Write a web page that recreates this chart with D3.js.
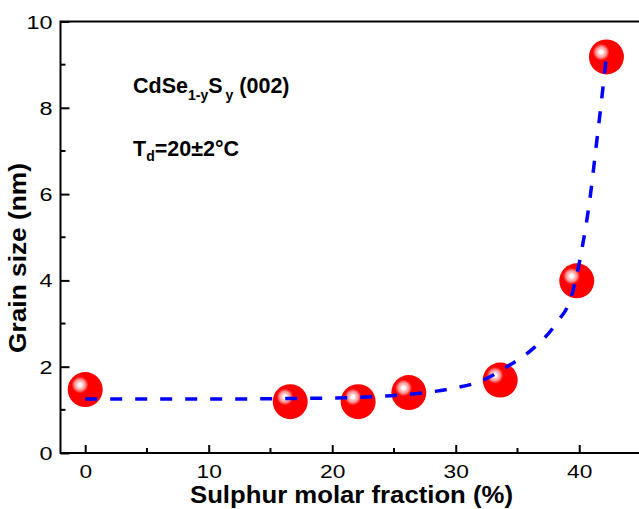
<!DOCTYPE html>
<html>
<head>
<meta charset="utf-8">
<script src="https://cdn.jsdelivr.net/npm/d3@7"></script>
<style>
  html, body { margin: 0; padding: 0; background: #fff; }
  svg { display: block; }
  text { font-family: "Liberation Sans", Arial, sans-serif; }
</style>
</head>
<body>
<svg id="chart" width="639" height="509"></svg>
<script>
// ---- data ----
const sulphur   = [0, 16.6, 22.1, 26.2, 33.6, 39.8, 42.2];
const grainSize = [1.47, 1.19, 1.19, 1.40, 1.69, 3.99, 9.18];

// dashed guide curve
const curveX = [0, 8, 16, 22, 26.2, 29.8, 31.9, 34.1, 36.3, 38.15, 39.4, 40.2, 40.85, 41.4, 41.7, 42.2];
const curveY = [1.25, 1.25, 1.26, 1.29, 1.36, 1.50, 1.65, 1.99, 2.43, 3.01, 3.66, 4.70, 5.86, 7.18, 7.91, 9.2];

const xTicks = [0, 10, 20, 30, 40];
const xMinor = [5, 15, 25, 35, 45];
const yTicks = [0, 2, 4, 6, 8, 10];
const yMinor = [1, 3, 5, 7, 9];

const xTitle = "Sulphur molar fraction (%)";
const yTitle = "Grain size (nm)";

// ---- layout ----
const svg = d3.select("#chart");
const x = d3.scaleLinear().domain([-2, 45]).range([60.5, 641]);
const y = d3.scaleLinear().domain([0, 10]).range([453, 21.5]);

// gradient for glossy red spheres
const defs = svg.append("defs");
const grad = defs.append("radialGradient").attr("id", "ball")
  .attr("cx", 0.35).attr("cy", 0.365).attr("r", 0.24)
  .attr("fx", 0.35).attr("fy", 0.365);
[[0, "#ffffff"], [0.22, "#ffffff"], [0.38, "#ffc4c4"], [0.62, "#ff9a9a"], [0.82, "#ff4848"], [1, "#ff0000"]]
  .forEach(([o, c]) => grad.append("stop").attr("offset", o).attr("stop-color", c));

// frame
svg.append("rect")
  .attr("x", x(-2)).attr("y", y(10))
  .attr("width", x(45) - x(-2)).attr("height", y(0) - y(10))
  .attr("fill", "none").attr("stroke", "#000").attr("stroke-width", 2);

// x axis
const gx = svg.append("g").attr("transform", `translate(0,${y(0)})`);
gx.call(d3.axisBottom(x).tickValues(xTicks).tickSizeInner(-8).tickSizeOuter(0).tickFormat(d3.format("d")))
  .call(g => g.select(".domain").remove())
  .call(g => g.selectAll(".tick line").attr("stroke", "#000").attr("stroke-width", 2))
  .call(g => g.selectAll(".tick text").attr("y", 0).attr("dy", 0)
      .attr("transform", "translate(0,25) scale(1.3,1)")
      .attr("font-size", 17.5).attr("fill", "#000").attr("font-family", "Liberation Sans, Arial, sans-serif"));
gx.selectAll(".minor").data(xMinor).join("line")
  .attr("x1", d => x(d)).attr("x2", d => x(d)).attr("y1", 0).attr("y2", -5)
  .attr("stroke", "#000").attr("stroke-width", 2);

// y axis
const gy = svg.append("g").attr("transform", `translate(${x(-2)},0)`);
gy.call(d3.axisLeft(y).tickValues(yTicks).tickSizeInner(-9).tickSizeOuter(0).tickFormat(d3.format("d")))
  .call(g => g.select(".domain").remove())
  .call(g => g.selectAll(".tick line").attr("stroke", "#000").attr("stroke-width", 2))
  .call(g => g.selectAll(".tick text").attr("x", 0).attr("dy", 0)
      .attr("transform", "translate(-8,6.5) scale(1.3,1)")
      .attr("text-anchor", "end")
      .attr("font-size", 18).attr("fill", "#000").attr("font-family", "Liberation Sans, Arial, sans-serif"));
gy.selectAll(".minor").data(yMinor).join("line")
  .attr("y1", d => y(d)).attr("y2", d => y(d)).attr("x1", 0).attr("x2", 5)
  .attr("stroke", "#000").attr("stroke-width", 2);

// axis titles
svg.append("text")
  .attr("x", 351.5).attr("y", 503)
  .attr("text-anchor", "middle").attr("font-weight", "bold").attr("font-size", 24)
  .attr("textLength", 323).attr("lengthAdjust", "spacingAndGlyphs")
  .text(xTitle);
svg.append("text")
  .attr("transform", "translate(26,258) rotate(-90)")
  .attr("text-anchor", "middle").attr("font-weight", "bold").attr("font-size", 24)
  .attr("textLength", 190).attr("lengthAdjust", "spacingAndGlyphs")
  .text(yTitle);

// annotations
const a1 = svg.append("text").attr("x", 133).attr("y", 93)
  .attr("font-weight", "bold").attr("font-size", 21.5);
a1.append("tspan").text("CdSe");
a1.append("tspan").attr("font-size", 14).attr("dy", 7).text("1-y");
a1.append("tspan").attr("dy", -7).text("S");
a1.append("tspan").attr("font-size", 14).attr("dy", 7).attr("dx", 3).text("y");
a1.append("tspan").attr("dy", -7).text(" (002)");

const a2 = svg.append("text").attr("x", 133).attr("y", 156)
  .attr("font-weight", "bold").attr("font-size", 21.5);
a2.append("tspan").text("T");
a2.append("tspan").attr("font-size", 14).attr("dy", 5).text("d");
a2.append("tspan").attr("dy", -5).text("=20±2°C");

// data spheres
const pts = sulphur.map((s, i) => ({ x: s, y: grainSize[i] }));
svg.append("g").selectAll("circle").data(pts).join("circle")
  .attr("cx", d => x(d.x)).attr("cy", d => y(d.y)).attr("r", 17.5)
  .attr("fill", "url(#ball)");

// dashed curve (drawn over the spheres)
const curvePts = curveX.map((v, i) => [v, curveY[i]]);
svg.append("path")
  .datum(curvePts)
  .attr("d", d3.line().x(d => x(d[0])).y(d => y(d[1])).curve(d3.curveMonotoneX))
  .attr("fill", "none").attr("stroke", "#0000ff").attr("stroke-width", 3.5)
  .attr("stroke-dasharray", "12,13");
</script>
</body>
</html>
